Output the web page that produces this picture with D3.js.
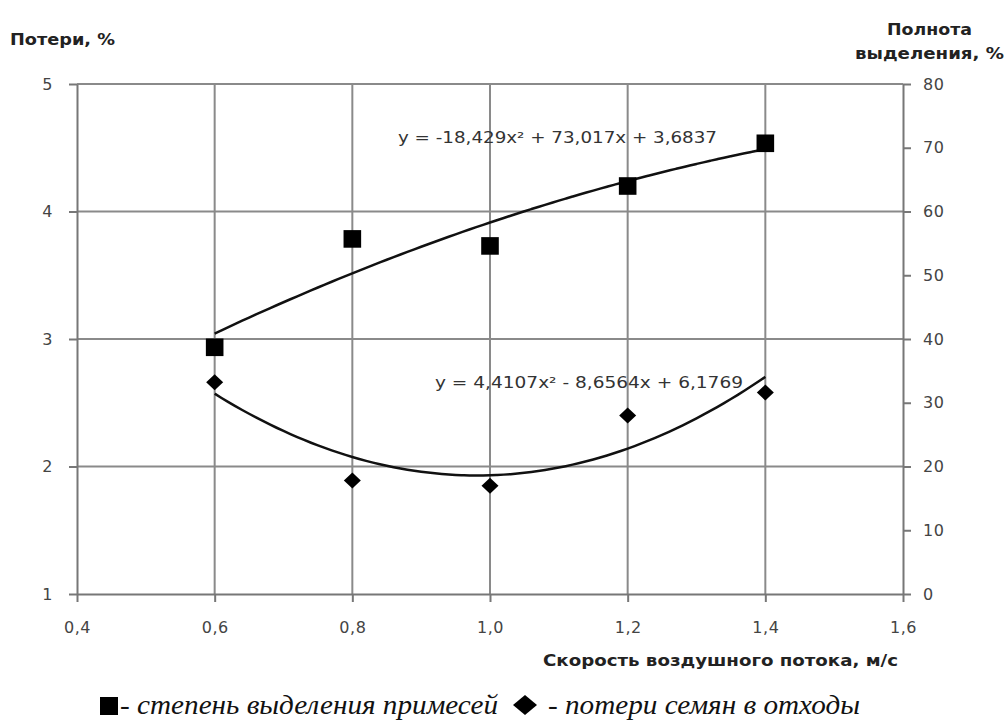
<!DOCTYPE html>
<html>
<head>
<meta charset="utf-8">
<style>
body { margin: 0; background: #fff; }
</style>
</head>
<body>
<div id="chart"></div>
<script src="https://d3js.org/d3.v7.min.js"></script>
<script>

// data
var speeds = [0.6, 0.8, 1.0, 1.2, 1.4];
var separation = [38.7, 55.7, 54.6, 64.0, 70.7];   // right axis, squares
var losses = [2.66, 1.89, 1.85, 2.40, 2.58];        // left axis, diamonds
var sepTrend = [-18.429, 73.017, 3.6837];
var lossTrend = [4.4107, -8.6564, 6.1769];
var sepLabel = "y = -18,429x\u00b2 + 73,017x + 3,6837";
var lossLabel = "y = 4,4107x\u00b2 - 8,6564x + 6,1769";
var xTicks = [0.4, 0.6, 0.8, 1.0, 1.2, 1.4, 1.6];
var leftTicks = [1, 2, 3, 4, 5];
var rightTicks = [0, 10, 20, 30, 40, 50, 60, 70, 80];

var W = 1007, H = 722;
var margin = {top: 84, right: 104, bottom: 128, left: 77},
    width = W - margin.left - margin.right,
    height = H - margin.top - margin.bottom;

var sans = "'DejaVu Sans', 'Open Sans', sans-serif";
var serif = "'Liberation Serif', 'DejaVu Serif', 'Times New Roman', serif";

var x = d3.scaleLinear().domain([0.4, 1.6]).range([0, width]);
var yL = d3.scaleLinear().domain([1, 5]).range([height, 0]);
var yR = d3.scaleLinear().domain([0, 80]).range([height, 0]);

var svg = d3.select("#chart").append("svg")
    .attr("width", W)
    .attr("height", H);
var g = svg.append("g")
    .attr("transform", "translate(" + margin.left + "," + margin.top + ")");

var fmt = function(d) { return d3.format(".1f")(d).replace(".", ","); };
var gridColor = "#8a8a8a";

// grid
g.selectAll(".hgrid").data(leftTicks.slice(1)).enter().append("line")
    .attr("x1", 0).attr("x2", width)
    .attr("y1", function(d) { return yL(d); }).attr("y2", function(d) { return yL(d); })
    .attr("stroke", gridColor).attr("stroke-width", 2);
g.selectAll(".vgrid").data(xTicks.slice(1, -1)).enter().append("line")
    .attr("x1", function(d) { return x(d); }).attr("x2", function(d) { return x(d); })
    .attr("y1", 0).attr("y2", height)
    .attr("stroke", gridColor).attr("stroke-width", 2);

// axes
function styleAxis(sel) {
  sel.select(".domain").attr("stroke", "#777").attr("stroke-width", 2);
  sel.selectAll(".tick line").attr("stroke", "#777").attr("stroke-width", 2);
  sel.selectAll(".tick text")
      .style("font-family", sans).style("font-size", "16px")
      .attr("fill", "#444").attr("letter-spacing", "0.5px");
}
g.append("g")
    .attr("transform", "translate(0," + height + ")")
    .call(d3.axisBottom(x).tickValues(xTicks).tickFormat(fmt).tickSize(8).tickSizeOuter(0).tickPadding(20))
    .call(styleAxis);
g.append("g")
    .call(d3.axisLeft(yL).tickValues(leftTicks).tickFormat(d3.format("d")).tickSize(8).tickSizeOuter(0).tickPadding(16))
    .call(styleAxis);
g.append("g")
    .attr("transform", "translate(" + width + ",0)")
    .call(d3.axisRight(yR).tickValues(rightTicks).tickFormat(d3.format("d")).tickSize(8).tickSizeOuter(0).tickPadding(12))
    .call(styleAxis);

// trend lines
function poly(c) { return function(v) { return c[0] * v * v + c[1] * v + c[2]; }; }
var xs = d3.range(0.6, 1.4001, 0.01);
var line = d3.line().curve(d3.curveMonotoneX);
var fs = poly(sepTrend), fl = poly(lossTrend);
g.append("path")
    .attr("d", line(xs.map(function(v) { return [x(v), yR(fs(v))]; })))
    .attr("fill", "none").attr("stroke", "#111").attr("stroke-width", 2.5);
g.append("path")
    .attr("d", line(xs.map(function(v) { return [x(v), yL(fl(v))]; })))
    .attr("fill", "none").attr("stroke", "#111").attr("stroke-width", 2.5);

// markers
g.selectAll(".sq").data(speeds).enter().append("path")
    .attr("d", d3.symbol().type(d3.symbolSquare).size(310))
    .attr("transform", function(d, i) { return "translate(" + x(d) + "," + yR(separation[i]) + ")"; })
    .attr("fill", "#000");
g.selectAll(".dm").data(speeds).enter().append("path")
    .attr("d", "M0,-8L8.5,0L0,8L-8.5,0Z")
    .attr("transform", function(d, i) { return "translate(" + x(d) + "," + yL(losses[i]) + ")"; })
    .attr("fill", "#000");

// text helper
function label(parent, txt, px, py, size, opts) {
  opts = opts || {};
  var t = parent.append("text")
      .attr("x", px).attr("y", py)
      .style("font-family", opts.family || sans)
      .style("font-size", size + "px")
      .style("font-weight", opts.bold ? "bold" : "normal")
      .style("font-style", opts.italic ? "italic" : "normal")
      .attr("fill", opts.fill || "#222")
      .attr("text-anchor", opts.anchor || "start")
      .text(txt);
  if (opts.len) t.attr("textLength", opts.len).attr("lengthAdjust", "spacingAndGlyphs");
  return t;
}

// equations
label(svg, sepLabel, 398, 143, 15, {fill: "#333", len: 319});
label(svg, lossLabel, 435, 388, 15, {fill: "#333", len: 308});

// axis titles
label(svg, "Потери, %", 10, 45, 15, {bold: true, len: 105});
label(svg, "Полнота", 887, 35, 15, {bold: true, len: 85});
label(svg, "выделения, %", 855, 59, 15, {bold: true, len: 149});
label(svg, "Скорость воздушного потока, м/с", 543, 666, 15, {bold: true, len: 355});

// legend
svg.append("rect").attr("x", 100).attr("y", 697).attr("width", 18).attr("height", 18).attr("fill", "#000");
label(svg, "- степень выделения примесей", 120, 714, 27, {family: serif, italic: true, fill: "#111", len: 378});
svg.append("path").attr("d", "M0,-10L12,0L0,10L-12,0Z")
    .attr("transform", "translate(525,705)").attr("fill", "#000");
label(svg, "- потери семян в отходы", 548, 714, 27, {family: serif, italic: true, fill: "#111", len: 312});

</script>
</body>
</html>
